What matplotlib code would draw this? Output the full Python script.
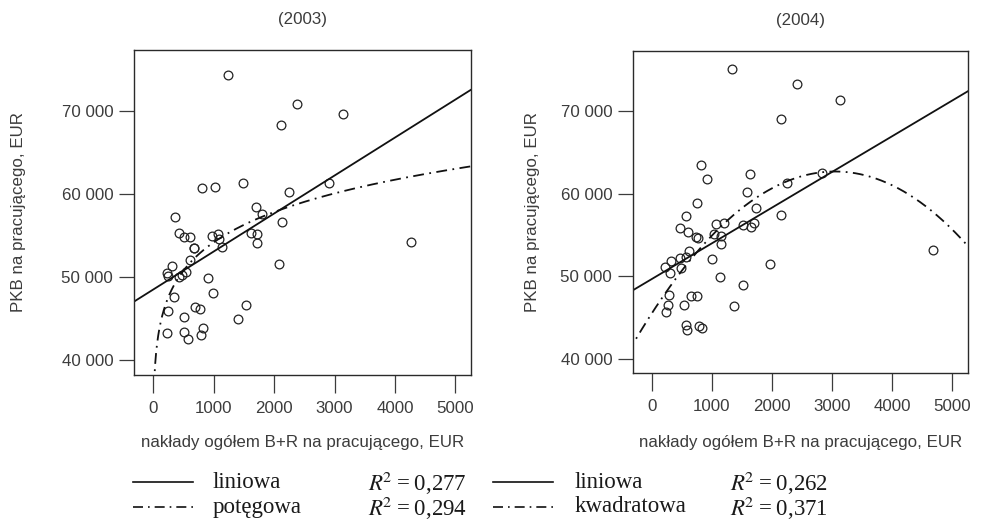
import numpy as np
import matplotlib.pyplot as plt
from matplotlib.lines import Line2D
from matplotlib.ticker import FuncFormatter

plt.rcParams["font.family"] = ["Liberation Sans", "DejaVu Sans"]

# nakłady B+R na pracującego (EUR) i PKB na pracującego (EUR)
x_2003 = [1231, 2373, 3134, 2114, 806, 1031, 1479, 2246, 2909, 4260, 364, 1694,
          1805, 2136, 425, 518, 613, 977, 1076, 1088, 679, 685, 1137, 1617, 1722,
          1722, 613, 309, 237, 250, 436, 485, 541, 905, 2081, 988, 343, 690, 783,
          254, 1535, 1402, 518, 237, 508, 579, 822, 800]
y_2003 = [74250, 70800, 69640, 68320, 60690, 60810, 61360, 60280, 61290, 54240,
          57200, 58400, 57600, 56680, 55320, 54800, 54840, 55000, 55240, 54640,
          53520, 53450, 53600, 55320, 55240, 54160, 52050, 51360, 50440, 50100,
          50010, 50200, 50600, 49840, 51640, 48040, 47610, 46400, 46170, 45960,
          46680, 44970, 45240, 43320, 43400, 42520, 43920, 43080]

x_2004 = [1341, 2417, 3140, 2147, 816, 916, 1628, 2831, 2252, 1589, 745, 1738,
          574, 2147, 463, 596, 728, 773, 1065, 1197, 1038, 1159, 1154, 1523, 1656,
          1700, 618, 469, 563, 310, 210, 298, 480, 993, 1970, 1126, 1523, 277, 657,
          745, 265, 541, 232, 1374, 563, 585, 789, 828, 4674]
y_2004 = [75130, 73280, 71400, 69110, 63490, 61850, 62450, 62530, 61290, 60280,
          58840, 58240, 57320, 57480, 55880, 55400, 54830, 54680, 56360, 56430,
          55160, 54920, 53960, 56190, 55950, 56480, 53110, 52190, 52310, 51910,
          51190, 50420, 51020, 52070, 51550, 49900, 48900, 47740, 47620, 47620,
          46500, 46500, 45690, 46450, 44160, 43520, 44010, 43800, 53230]

# współczynniki trendów
lin_2003 = [48500, 4.57]          # a + b*x
pow_2003 = [28300, 0.094]         # a * x**b
lin_2004 = [49690, 4.32]          # a + b*x
quad_2004 = [45546, 11.25, -1.844e-3]  # a + b*x + c*x^2

titles = ["(2003)", "(2004)"]
legend_names = [["liniowa", "potęgowa"], ["liniowa", "kwadratowa"]]
r2_values = [["0,277", "0,294"], ["0,262", "0,371"]]

W, H = 981, 522
gray = "#3c3c3c"
dashdot = (0, (6, 3, 1, 3))
fs = 12.2

fig = plt.figure(figsize=(W / 100, H / 100), dpi=100)
fig.patch.set_facecolor("white")


def fx(px):
    return px / W


def fy(py):
    return 1 - py / H


def thousands(v, pos):
    return "{:,.0f}".format(v).replace(",", " ")


def make_axes(left, right, top, bottom, ylab_px):
    ax = fig.add_axes([fx(left), fy(bottom), fx(right - left), fy(top) - fy(bottom)])
    ax.set_xlim(-315, 5265)
    ax.set_ylim(38300, 77300)
    ax.set_xticks([0, 1000, 2000, 3000, 4000, 5000])
    ax.set_yticks([40000, 50000, 60000, 70000])
    ax.yaxis.set_major_formatter(FuncFormatter(thousands))
    ax.tick_params(length=11, width=0.9, color=gray, labelcolor=gray,
                   labelsize=fs)
    ax.tick_params(axis="x", length=13, pad=6)
    ax.tick_params(axis="y", pad=4)
    for s in ax.spines.values():
        s.set_color("#2a2a2a")
        s.set_linewidth(1.0)
    ax.set_xlabel("nakłady ogółem B+R na pracującego, EUR", fontsize=fs,
                  color=gray)
    ax.set_ylabel("PKB na pracującego, EUR", fontsize=fs, color=gray)
    ax.yaxis.set_label_coords((ylab_px - left) / (right - left), 0.5)
    ax.xaxis.set_label_coords(0.5, (bottom - 442) / (bottom - top))
    ax.xaxis.label.set_va("center")
    ax.yaxis.label.set_va("center")
    return ax


ax1 = make_axes(134, 471.5, 50, 374.5, 18)
ax2 = make_axes(633, 968, 51, 373, 532)

xs = np.linspace(-400, 5400, 500)
xp = np.linspace(1, 5400, 2000)

ax1.plot(x_2003, y_2003, "o", mfc="none", mec="#222222", ms=6.3, mew=0.9)
ax1.plot(xs, lin_2003[0] + lin_2003[1] * xs, color="#111111", lw=1.3)
ax1.plot(xp, pow_2003[0] * xp ** pow_2003[1], color="#111111", lw=1.3, ls=dashdot)

ax2.plot(x_2004, y_2004, "o", mfc="none", mec="#222222", ms=6.3, mew=0.9)
ax2.plot(xs, lin_2004[0] + lin_2004[1] * xs, color="#111111", lw=1.3)
ax2.plot(xs, quad_2004[0] + quad_2004[1] * xs + quad_2004[2] * xs ** 2,
         color="#111111", lw=1.3, ls=dashdot)

for ax, t in zip([ax1, ax2], titles):
    ax.set_title(t, fontsize=fs, color=gray, pad=19)

# legenda pod wykresami
for i, (x0, xt, xr) in enumerate([(133, 213, 368), (493, 575, 730)]):
    for j, yy in enumerate([482, 507]):
        style = "-" if j == 0 else dashdot
        fig.add_artist(Line2D([fx(x0), fx(x0 + 60)], [fy(yy), fy(yy)],
                              color="#111111", lw=1.2, ls=style))
        fig.text(fx(xt), fy(yy), legend_names[i][j], fontsize=16.5,
                 family="Liberation Serif", color="#1a1a1a", va="center")
        fig.text(fx(xr), fy(yy + 1),
                 r"$\mathit{R}^{\!2}$" + "\u2009=\u2009" + r2_values[i][j],
                 fontsize=16.5, family="Liberation Serif", color="#1a1a1a",
                 va="center", math_fontfamily="stix")

fig.savefig("out.png", dpi=100, facecolor="white")
